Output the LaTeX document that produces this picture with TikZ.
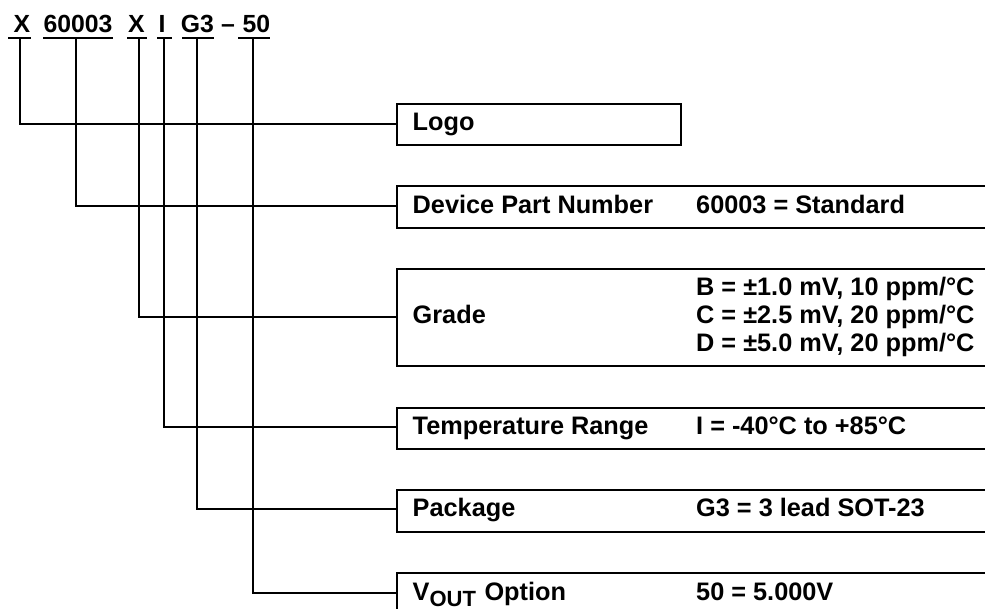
\documentclass[tikz,border=0pt]{standalone}
\usepackage{fontspec}
\setmainfont{Liberation Sans}[BoldFont={Liberation Sans Bold}]
\newcommand{\bodyfont}{\fontsize{25.3}{28}\selectfont\bfseries}
\newcommand{\headfont}{\fontsize{24.8}{28}\selectfont\bfseries}
\tikzset{
  wire/.style={line width=1.8pt,line cap=rect},
  optbox/.style={draw,line width=1.8pt,anchor=north west,inner sep=0pt,outer sep=0pt,minimum height=#1},
  body/.style={anchor=base west,inner sep=0pt,font=\bodyfont},
  head/.style={anchor=base west,inner sep=0pt,font=\headfont}
}
\begin{document}
\begin{tikzpicture}[x=1pt,y=-1pt]
\useasboundingbox (0,0) rectangle (985,609);
% heading
\node[head] (hx) at (13.3,32.3) {X};
\node[head] (hn) at (43.3,32.3) {60003};
\node[head] (hg) at (128,32.3) {X};
\node[head] (ht) at (158.3,32.3) {I};
\node[head] (hp) at (180.6,32.3) {G3};
\node[head] (hd) at (221,32.3) {--};
\node[head] (hv) at (242.3,32.3) {50};
% underlines
\coordinate (a1) at (8,38); \coordinate (b1) at (31,38); \coordinate (c1) at (20,38);
\coordinate (a2) at (43,38); \coordinate (b2) at (113,38); \coordinate (c2) at (76,38);
\coordinate (a3) at (127,38); \coordinate (b3) at (147,38); \coordinate (c3) at (139,38);
\coordinate (a4) at (157,38); \coordinate (b4) at (172,38); \coordinate (c4) at (164,38);
\coordinate (a5) at (182,38); \coordinate (b5) at (214,38); \coordinate (c5) at (197,38);
\coordinate (a6) at (238,38); \coordinate (b6) at (270,38); \coordinate (c6) at (253,38);
\foreach \i in {1,...,6} \draw[line width=1.8pt] (a\i) -- (b\i);
% boxes
\node[optbox=41pt,minimum width=284pt] (logo) at (397,104) {};
\node[optbox=42pt,minimum width=640pt] (part) at (397,186) {};
\node[optbox=97pt,minimum width=640pt] (grade) at (397,269) {};
\node[optbox=41pt,minimum width=640pt] (temp) at (397,408) {};
\node[optbox=42pt,minimum width=640pt] (pack) at (397,490) {};
\node[optbox=40pt,minimum width=640pt] (vout) at (397,573) {};
% connectors
\draw[wire] (c1) |- ([yshift=0.5pt]logo.west);
\draw[wire] (c2) |- ([yshift=1pt]part.west);
\draw[wire] (c3) |- ([yshift=0.5pt]grade.west);
\draw[wire] (c4) |- ([yshift=1.5pt]temp.west);
\draw[wire] (c5) |- ([yshift=2pt]pack.west);
\draw[wire] (c6) |- (vout.west);
% labels
\node[body] (l1) at (412.5,130.7) {Logo};
\node[body] (l2) at (412.5,214) {Device Part Number};
\node[body] (v2) at (696,214) {60003 = Standard};
\node[body] (l3) at (412.5,323.5) {Grade};
\node[body] (v3a) at (696,295.7) {B = ±1.0 mV, 10 ppm/°C};
\node[body] (v3b) at (696,323.7) {C = ±2.5 mV, 20 ppm/°C};
\node[body] (v3c) at (696,351.7) {D = ±5.0 mV, 20 ppm/°C};
\node[body] (l4) at (412.5,434.3) {Temperature Range};
\node[body] (v4) at (696,434.3) {I = -40°C to +85°C};
\node[body] (l5) at (412.5,516.7) {Package};
\node[body] (v5) at (696,516.7) {G3 = 3 lead SOT-23};
\node[body] (l6) at (412.5,600) {V\raisebox{-6pt}{\fontsize{22}{24}\selectfont\bfseries OUT}\hspace{1.5pt} Option};
\node[body] (v6) at (696,600) {50 = 5.000V};
\end{tikzpicture}
\end{document}
